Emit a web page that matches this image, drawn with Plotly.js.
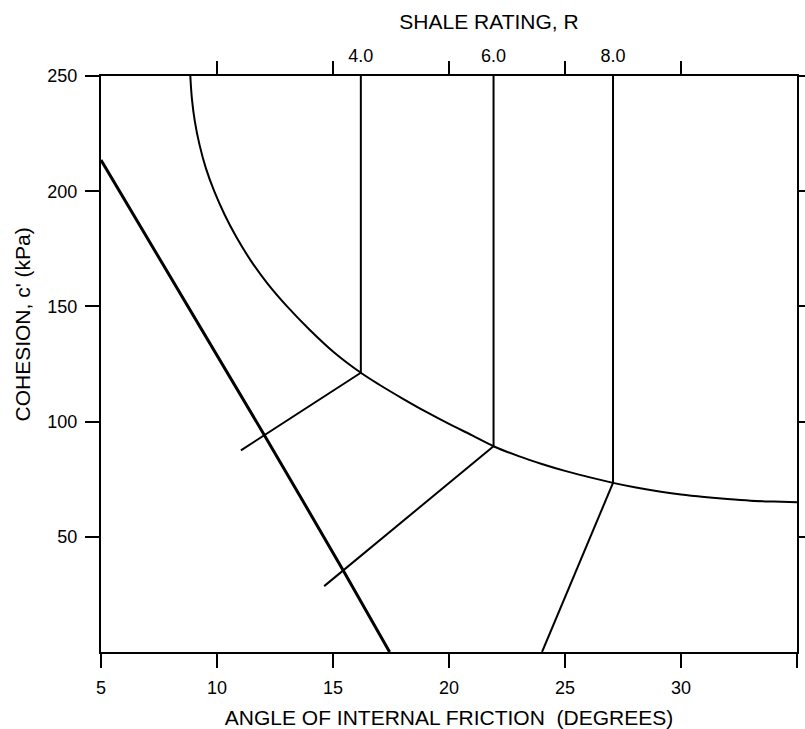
<!DOCTYPE html>
<html>
<head>
<meta charset="utf-8">
<script src="https://cdn.plot.ly/plotly-3.0.1.min.js"></script>
<style>html,body{margin:0;padding:0;background:#fff;}#chart{width:805px;height:729px;}</style>
</head>
<body>
<div id="chart"></div>
<script>
// Upper boundary curve (cohesion vs friction angle)
const curveX = [8.85, 8.92, 9.05, 9.25, 9.52, 9.88, 10.32, 10.84, 11.45, 12.17, 13.02, 13.98, 15.05, 16.2, 17.0, 18.0, 19.0, 20.0, 21.0, 21.92, 23.0, 24.0, 25.0, 26.0, 27.07, 28.0, 29.0, 30.0, 31.0, 32.0, 33.0, 34.0, 35.0];
const curveY = [250, 240, 230, 220, 210, 200, 190, 180, 170, 160, 150, 140, 130, 121.2, 116.0, 110.0, 104.3, 99.0, 94.0, 89.3, 85.0, 81.6, 78.6, 76.0, 73.4, 71.5, 69.8, 68.4, 67.3, 66.4, 65.7, 65.3, 65.0];
// Lower (thick) boundary line
const lowerX = [5.0, 12.05, 15.46, 17.44];
const lowerY = [213.5, 94, 35.1, 0];
// Shale rating lines
const ratingX = [16.2, 21.92, 27.07];
const ratingTopY = [250, 250, 250];
const ratingBottomY = [121.2, 89.3, 73.4];
const ratingLabels = ['4.0', '6.0', '8.0'];
// Connecting lines ending at the curve
const linkStartX = [11.03, 14.62, 24.01];
const linkStartY = [87.5, 28.6, 0];
// Axis ticks
const xTicks = [5, 10, 15, 20, 25, 30, 35];
const topTicks = [10, 15, 20, 25, 30];
const yTicks = [50, 100, 150, 200, 250];

const black = '#000';
const traces = [];
traces.push({x: curveX, y: curveY, mode: 'lines', line: {color: black, width: 2, shape: 'spline', smoothing: 1}, hoverinfo: 'skip'});
traces.push({x: lowerX, y: lowerY, mode: 'lines', line: {color: black, width: 3, shape: 'spline', smoothing: 0.4}, hoverinfo: 'skip'});
for (let i = 0; i < ratingX.length; i++) {
  traces.push({x: [ratingX[i], ratingX[i]], y: [ratingTopY[i], ratingBottomY[i]], mode: 'lines', line: {color: black, width: 2}, hoverinfo: 'skip'});
  traces.push({x: [linkStartX[i], ratingX[i]], y: [linkStartY[i], ratingBottomY[i]], mode: 'lines', line: {color: black, width: 2}, hoverinfo: 'skip'});
}
// invisible traces to activate the top axes
traces.push({x: [5, 35], y: [0, 0], xaxis: 'x2', mode: 'markers', marker: {opacity: 0}, hoverinfo: 'skip'});
traces.push({x: [5, 35], y: [0, 0], xaxis: 'x3', mode: 'markers', marker: {opacity: 0}, hoverinfo: 'skip'});

const fam = 'Liberation Sans, Arial, sans-serif';
const tickFont = {family: fam, size: 18, color: black};
const titleFont = {family: fam, size: 21, color: black};
const layout = {
  width: 805, height: 729,
  margin: {l: 101, r: 8, t: 76, b: 77},
  showlegend: false,
  paper_bgcolor: '#fff', plot_bgcolor: '#fff',
  font: tickFont,
  title: {text: 'SHALE RATING, R', font: titleFont, xref: 'container', yref: 'container', x: 489 / 805, xanchor: 'center', y: 1 - 22 / 729, yanchor: 'middle'},
  xaxis: {
    range: [5, 35], tickmode: 'array', tickvals: xTicks, ticktext: xTicks.map(String),
    ticks: 'outside', ticklen: 14, tickwidth: 2, tickcolor: black, ticklabelstandoff: 4,
    showline: true, linewidth: 2, linecolor: black, mirror: true,
    showgrid: false, zeroline: false, tickfont: tickFont,
    title: {text: 'ANGLE OF INTERNAL FRICTION&nbsp;&nbsp;(DEGREES)', font: titleFont, standoff: 14}
  },
  xaxis2: {
    overlaying: 'x', side: 'top', range: [5, 35], tickmode: 'array', tickvals: topTicks,
    showticklabels: false, ticks: 'outside', ticklen: 14, tickwidth: 2, tickcolor: black,
    showline: false, showgrid: false, zeroline: false
  },
  xaxis3: {
    overlaying: 'x', side: 'top', range: [5, 35], tickmode: 'array', tickvals: ratingX, ticktext: ratingLabels,
    ticks: '', ticklabelstandoff: 9, showline: false, showgrid: false, zeroline: false, tickfont: tickFont
  },
  yaxis: {
    range: [0, 250], tickmode: 'array', tickvals: yTicks, ticktext: yTicks.map(String),
    ticks: 'outside', ticklen: 14, tickwidth: 2, tickcolor: black,
    showline: true, linewidth: 2, linecolor: black, mirror: 'ticks',
    showgrid: false, zeroline: false, tickfont: tickFont, ticklabelstandoff: 4
  },
  annotations: [{
    text: "COHESION, c' (kPa)", textangle: -90, font: titleFont,
    xref: 'paper', yref: 'paper', x: (22 - 101) / 696, y: (652.5 - 325) / 576,
    xanchor: 'center', yanchor: 'middle', showarrow: false
  }]
};
Plotly.newPlot('chart', traces, layout, {displayModeBar: false, staticPlot: true});
</script>
</body>
</html>
